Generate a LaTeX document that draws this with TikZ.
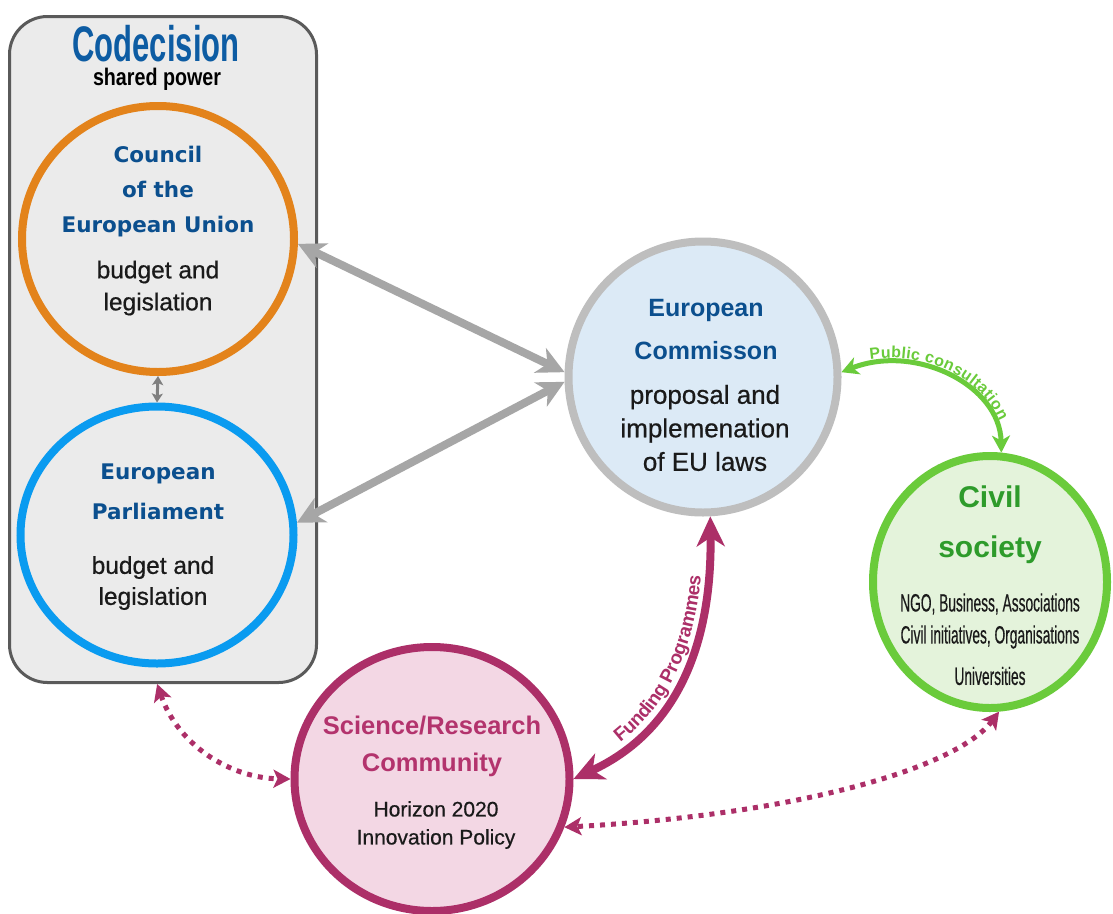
\documentclass[tikz,border=0pt]{standalone}
\usepackage{fontspec}
\setmainfont{Liberation Sans}
\newfontfamily\dejavu{DejaVu Sans}
\newfontfamily\bodyf[FakeBold=0.6]{Liberation Sans}
\newfontfamily\narrowA[FakeStretch=0.62]{Liberation Sans}
\newfontfamily\narrowB[FakeStretch=0.82]{Liberation Sans}
\newfontfamily\narrowC[FakeStretch=0.55,FakeBold=0.4]{Liberation Sans}
\usetikzlibrary{shapes.geometric,arrows.meta,decorations.text}
\definecolor{boxfill}{HTML}{EBEBEB}
\definecolor{boxline}{HTML}{5A5A5A}
\definecolor{cblue}{HTML}{0D5CA3}
\definecolor{tblue}{HTML}{0B4F8E}
\definecolor{corange}{HTML}{E3831B}
\definecolor{cpblue}{HTML}{0A9BF0}
\definecolor{commring}{HTML}{BEBEBE}
\definecolor{commfill}{HTML}{DCEAF6}
\definecolor{civring}{HTML}{6ACB3B}
\definecolor{civfill}{HTML}{E4F3DB}
\definecolor{civtitle}{HTML}{2E9B2B}
\definecolor{sciring}{HTML}{AC2F68}
\definecolor{scifill}{HTML}{F3D7E4}
\definecolor{scititle}{HTML}{B3336D}
\definecolor{garrow}{HTML}{A6A6A6}
\definecolor{sarrow}{HTML}{7F7F7F}
\definecolor{txt}{HTML}{1A1A1A}
\begin{document}
\begin{tikzpicture}[x=1pt,y=-1pt,
  ring/.style={ellipse, line width=8pt, inner sep=0pt, outer sep=4pt},
  lbl/.style={inner sep=0pt, align=center},
  dvtitle/.style={lbl, font=\dejavu\bfseries\fontsize{21.5}{#1}\selectfont, text=tblue},
  bodytext/.style={lbl, font=\bodyf\fontsize{24.5}{#1}\selectfont, text=txt},
  grayarrow/.style={draw=garrow, line width=8pt,
    {Stealth[length=27pt,width=27pt,inset=8pt]}-{Stealth[length=27pt,width=27pt,inset=8pt]}},
  smallarrow/.style={draw=sarrow, line width=3pt,
    {Stealth[length=9pt,width=11pt,inset=2pt]}-{Stealth[length=9pt,width=11pt,inset=2pt]}},
  greenarrow/.style={draw=civring, line width=5pt,
    {Stealth[length=17pt,width=18pt,inset=5pt]}-{Stealth[length=17pt,width=18pt,inset=5pt]}},
  magarrow/.style={draw=sciring, line width=8pt,
    {Stealth[length=30pt,width=28pt,inset=9pt]}-{Stealth[length=30pt,width=28pt,inset=9pt]}},
  dotarrow/.style={draw=sciring, line width=5pt, dash pattern=on 5pt off 6pt,
    {Stealth[length=17pt,width=18pt,inset=4pt]}-{Stealth[length=17pt,width=18pt,inset=4pt]}}
]
\useasboundingbox (0,0) rectangle (1113,913);
\fill[white] (0,0) rectangle (1113,913);

% codecision box
\node[draw=boxline, line width=3pt, fill=boxfill, rounded corners=38pt,
      minimum width=307pt, minimum height=666pt, inner sep=0pt] (codec) at (163,349.5) {};
\node[lbl, font=\narrowA\bfseries\fontsize{50}{50}\selectfont, text=cblue] (codtitle) at (156,44) {Codecision};
\node[lbl, font=\narrowB\bfseries\fontsize{24}{24}\selectfont, text=black] (codsub) at (157,79) {shared power};

% circles
\node[ring, draw=corange, minimum width=272pt, minimum height=266pt] (council) at (158,239) {};
\node[ring, draw=cpblue, minimum width=273pt, minimum height=257pt] (parl) at (157,535) {};
\node[ring, draw=commring, fill=commfill, minimum width=269pt, minimum height=271pt] (comm) at (703,377) {};
\node[ring, draw=civring, fill=civfill, minimum width=234pt, minimum height=252pt] (civ) at (990,582) {};
\node[ring, draw=sciring, fill=scifill, minimum width=275pt, minimum height=264pt] (sci) at (432,779) {};

% council text
\node[dvtitle=35pt] (councilT) at (158,192) {Council\\of the\\European Union};
\node[bodytext=32pt] (councilB) at (158,288) {budget and\\legislation};
% parliament text
\node[dvtitle=40pt] (parlT) at (158,492) {European\\Parliament};
\node[bodytext=31pt] (parlB) at (153,583) {budget and\\legislation};
% commission text
\node[lbl, font=\bfseries\fontsize{25}{43}\selectfont, text=tblue] (commT) at (706,330) {European\\Commisson};
\node[lbl, font=\bodyf\fontsize{26}{33.5}\selectfont, text=txt] (commB) at (705,428) {proposal and\\implemenation\\of EU laws};
% civil society text
\node[lbl, font=\bfseries\fontsize{30}{50}\selectfont, text=civtitle] (civT) at (990,525) {Civil\\society};
\node[lbl, font=\narrowC\fontsize{25}{25}\selectfont, text=txt] (civB1) at (990,604) {NGO, Business, Associations};
\node[lbl, font=\narrowC\fontsize{25}{25}\selectfont, text=txt] (civB2) at (990,637) {Civil initiatives, Organisations};
\node[lbl, font=\narrowC\fontsize{25}{25}\selectfont, text=txt] (civB3) at (990,676) {Universities};
% science text
\node[lbl, font=\bfseries\fontsize{25.5}{37}\selectfont, text=scititle] (sciT) at (432,746) {Science/Research\\Community};
\node[lbl, font=\bodyf\fontsize{21}{28}\selectfont, text=txt] (sciB) at (436,825) {Horizon 2020\\Innovation Policy};

% connectors
\draw[grayarrow] (council.-2) -- (comm.178);
\draw[grayarrow] (comm.182) -- (parl.5);
\draw[smallarrow] (council.south) -- (parl.north);

\draw[greenarrow] (comm.2) .. controls (915,343) and (1000,385) .. (civ.85);
\path[decorate, decoration={text along path, text align=center, raise=5pt,
  text={|\bfseries\fontsize{16}{16}\selectfont\color{civring}|Public consultation}}]
  (comm.2) .. controls (915,343) and (1000,385) .. (civ.85);

\draw[magarrow] (sci.east) .. controls (680,730) and (712,640) .. (comm.-87);
\path[decorate, decoration={text along path, text align=center, raise=7pt,
  text={|\bfseries\fontsize{19}{19}\selectfont\color{sciring}|Funding Programmes}}]
  (sci.east) .. controls (680,730) and (712,640) .. (comm.-87);

\draw[dotarrow] (codec.-91) .. controls (178,745) and (230,778) .. (sci.west);
\draw[dotarrow] (civ.-86) .. controls (955,770) and (790,815) .. (sci.-20);
\end{tikzpicture}
\end{document}
